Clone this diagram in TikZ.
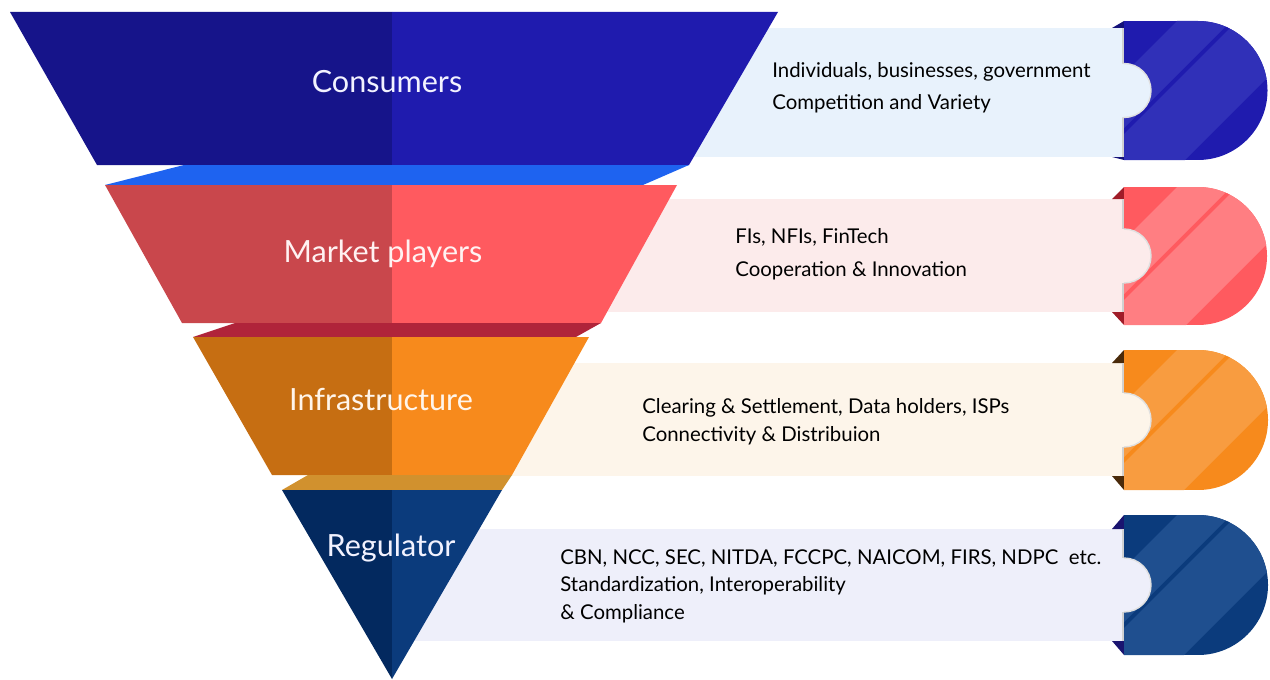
\documentclass[tikz,border=0pt]{standalone}
\usepackage{fontspec}
\setmainfont{Lato}
\usepackage{tikz}
\usetikzlibrary{positioning}

\definecolor{cons-dk}{HTML}{16148A}
\definecolor{cons-base}{HTML}{1F1BAE}
\definecolor{cons-lite}{HTML}{3030B8}
\definecolor{cons-fold}{HTML}{14127A}
\definecolor{cons-panel}{HTML}{E8F2FC}
\definecolor{cons-band}{HTML}{1E63F0}
\definecolor{mark-dk}{HTML}{C9474C}
\definecolor{mark-base}{HTML}{FF5A5F}
\definecolor{mark-lite}{HTML}{FF7E82}
\definecolor{mark-fold}{HTML}{A01C28}
\definecolor{mark-panel}{HTML}{FCEBEB}
\definecolor{mark-band}{HTML}{B0243A}
\definecolor{infra-dk}{HTML}{C66E12}
\definecolor{infra-base}{HTML}{F78A1C}
\definecolor{infra-lite}{HTML}{F89C40}
\definecolor{infra-fold}{HTML}{4A2A0A}
\definecolor{infra-panel}{HTML}{FDF5EA}
\definecolor{infra-band}{HTML}{D1912E}
\definecolor{reg-dk}{HTML}{03295F}
\definecolor{reg-base}{HTML}{0B3B7C}
\definecolor{reg-lite}{HTML}{1F4F8F}
\definecolor{reg-fold}{HTML}{1A1470}
\definecolor{reg-panel}{HTML}{EEEFFA}

\begin{document}
\begin{tikzpicture}
      [x=0.02cm,y=-0.02cm,
       lbl/.style={text=#1,font=\fontsize{17.4}{19}\selectfont},
       info/.style={anchor=base west,inner sep=0pt,text=black,font=\fontsize{11.6}{14}\selectfont}]
    \useasboundingbox (0,0) rectangle (1270,679);

    \foreach \t/\b/\pt/\pb/\c in {21/160/28/157/cons,187/325/199/312/mark,
                                  350/490/363/476/infra,515/655/529/641/reg}{
      \pgfmathsetmacro\r{(\b-\t)/2}
      \pgfmathsetmacro\m{(\t+\b)/2}
      \fill[\c-panel] (400,\pt) rectangle (1124,\pb);
      \fill[\c-fold] (1112,\pt) -- (1124,\t) -- (1124,\pt) -- cycle;
      \fill[\c-fold] (1112,\pb) -- (1124,\pb) -- (1124,\b) -- cycle;
      \begin{scope}
        \clip (1124,\t) -- (1198,\t) arc[start angle=-90,end angle=90,radius=\r]
              -- (1124,\b) -- cycle;
        \fill[\c-base] (1124,\t) rectangle (1270,\b);
        \fill[\c-lite] ({1124+53+300},{\t-300}) -- ({1124+53-300},{\t+300})
              -- ({1124+200-300},{\t+300}) -- ({1124+200+300},{\t-300}) -- cycle;
        \draw[\c-base,line width=2.2pt] ({1124+110+300},{\t-300}) -- ({1124+110-300},{\t+300});
      \end{scope}
      \draw[black!18,line width=1.2pt] (1123,\pt) -- (1123,\pb);
      \fill[\c-panel] (1124,\m) circle[radius=27];
      \draw[black!12,line width=0.8pt] (1124,{\m-27}) arc[start angle=-90,end angle=90,radius=27];
    }

    \fill[cons-dk]   (10,12) -- (392,12) -- (392,165) -- (97,165) -- cycle;
    \fill[cons-base] (392,12) -- (778,12) -- (689,165) -- (392,165) -- cycle;
    \fill[cons-band] (184,165) -- (689,165) -- (643,185) -- (105,185) -- cycle;
    \fill[mark-dk]   (105,185) -- (392,185) -- (392,323) -- (182,323) -- cycle;
    \fill[mark-base] (392,185) -- (677,185) -- (601,323) -- (392,323) -- cycle;
    \fill[mark-band] (235,323) -- (601,323) -- (576,337) -- (193,337) -- cycle;
    \fill[infra-dk]  (193,337) -- (392,337) -- (392,475) -- (272,475) -- cycle;
    \fill[infra-base](392,337) -- (589,337) -- (512,475) -- (392,475) -- cycle;
    \fill[infra-band](308,475) -- (512,475) -- (502,490) -- (282,490) -- cycle;
    \fill[reg-dk]    (282,490) -- (392,490) -- (392,679) -- cycle;
    \fill[reg-base]  (392,490) -- (502,490) -- (392,679) -- cycle;

    \node[lbl=blue!5]   (consumers) at (387,82)  {Consumers};
    \node[lbl=red!5]    (market)    at (383,254) {Market players};
    \node[lbl=orange!8] (infra)     at (381,400) {Infrastructure};
    \node[lbl=blue!5]   (regulator) at (391,548) {Regulator};

    \node[info] (cons1)  at (772,78)  {Individuals, businesses, government};
    \node[info] (cons2)  at (772,110) {Competition and Variety};
    \node[info] (mark1)  at (735,243) {FIs, NFIs, FinTech};
    \node[info] (mark2)  at (735,276) {Cooperation \& Innovation};
    \node[info] (infra1) at (642,413) {Clearing \& Settlement, Data holders, ISPs};
    \node[info] (infra2) at (642,441) {Connectivity \& Distribuion};
    \node[info] (reg1)   at (560,564) {CBN, NCC, SEC, NITDA, FCCPC, NAICOM, FIRS, NDPC\ \ etc.};
    \node[info] (reg2)   at (560,591) {Standardization, Interoperability};
    \node[info] (reg3)   at (560,619) {\& Compliance};
\end{tikzpicture}
\end{document}
